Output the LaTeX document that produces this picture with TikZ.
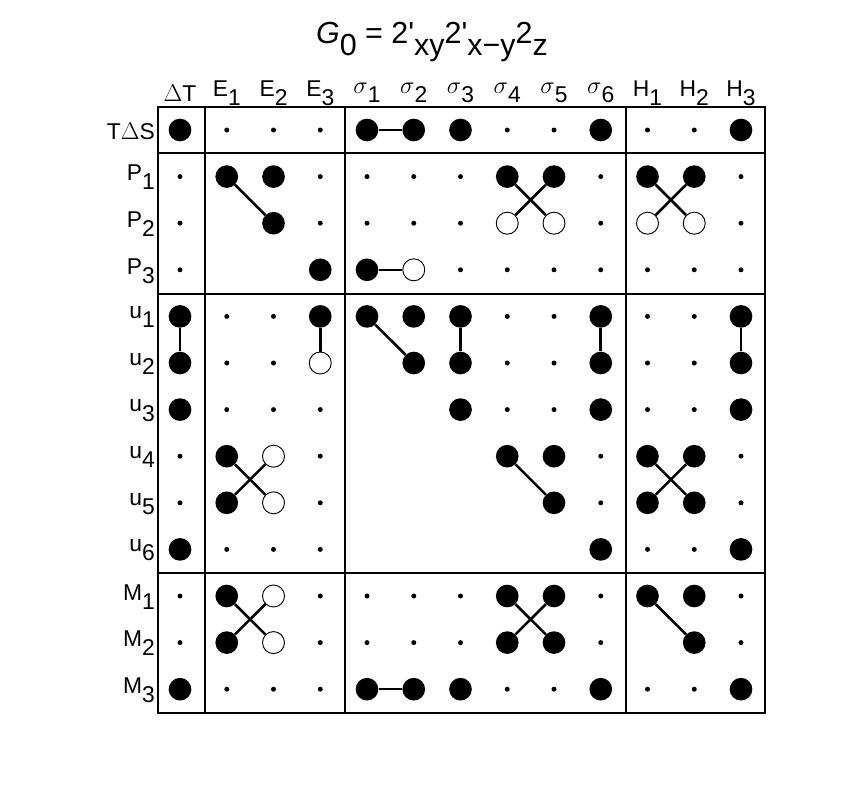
\documentclass[tikz,border=0pt]{standalone}
\usepackage{fontspec}
\setmainfont{Liberation Sans}
\usetikzlibrary{backgrounds}
\newcommand{\lowsub}[1]{\raisebox{-0.75ex}{#1}}
\begin{document}
\begin{tikzpicture}[x=0.03cm,y=-0.03cm,
  every node/.style={inner sep=0pt},
  dotB/.style={circle,fill=black,minimum width=0.6cm,minimum height=0.68cm},
  dotO/.style={circle,draw=black,line width=0.8pt,fill=white,minimum width=0.58cm,minimum height=0.66cm},
  dots/.style={circle,fill=black,minimum size=0.15cm},
  dotn/.style={coordinate},
  frame/.style={line width=2.4pt},
  link/.style={line width=2.2pt},
  lab/.style={font=\fontsize{19.5}{21}\selectfont}]
\useasboundingbox (0,0) rectangle (856,812);
\node[font=\fontsize{26}{28}\selectfont] (title) at (432,42) {{\itshape G}\lowsub{0} = 2\textquotesingle\lowsub{xy}2\textquotesingle\lowsub{x−y}2\lowsub{z}};
% column heads
\foreach \h [count=\c] in {$\Delta$T,E\lowsub{1},E\lowsub{2},E\lowsub{3},$\sigma$\lowsub{1},$\sigma$\lowsub{2},$\sigma$\lowsub{3},$\sigma$\lowsub{4},$\sigma$\lowsub{5},$\sigma$\lowsub{6},H\lowsub{1},H\lowsub{2},H\lowsub{3}}
  \node[lab] (head\c) at ({180+(\c-1)*46.75},93) {\h};
% row labels
\foreach \h [count=\r] in {T$\Delta$S,P\lowsub{1},P\lowsub{2},P\lowsub{3},u\lowsub{1},u\lowsub{2},u\lowsub{3},u\lowsub{4},u\lowsub{5},u\lowsub{6},M\lowsub{1},M\lowsub{2},M\lowsub{3}}
  \node[lab,anchor=east] (row\r) at (155,{131+(\r-1)*46.6}) {\h};
% the dots
\foreach \line [count=\r] in {
  {B,s,s,s,B,B,B,s,s,B,s,s,B},
  {s,B,B,s,s,s,s,B,B,s,B,B,s},
  {s,n,B,s,s,s,s,O,O,s,O,O,s},
  {s,n,n,B,B,O,s,s,s,s,s,s,s},
  {B,s,s,B,B,B,B,s,s,B,s,s,B},
  {B,s,s,O,n,B,B,s,s,B,s,s,B},
  {B,s,s,s,n,n,B,s,s,B,s,s,B},
  {s,B,O,s,n,n,n,B,B,s,B,B,s},
  {s,B,O,s,n,n,n,n,B,s,B,B,s},
  {B,s,s,s,n,n,n,n,n,B,s,s,B},
  {s,B,O,s,s,s,s,B,B,s,B,B,s},
  {s,B,O,s,s,s,s,B,B,s,n,B,s},
  {B,s,s,s,B,B,B,s,s,B,s,s,B}}
  \foreach \t [count=\c] in \line
    \node[dot\t] (n\r-\c) at ({180+(\c-1)*46.75},{130+(\r-1)*46.6}) {};
% connectors
\begin{pgfonlayer}{background}
\foreach \a/\b in {1-5/1-6, 2-2/3-3, 2-8/3-9, 2-9/3-8, 2-11/3-12, 2-12/3-11, 4-5/4-6,
  5-1/6-1, 5-4/6-4, 5-5/6-6, 5-7/6-7, 5-10/6-10, 5-13/6-13,
  8-2/9-3, 8-3/9-2, 8-8/9-9, 8-11/9-12, 8-12/9-11,
  11-2/12-3, 11-3/12-2, 11-8/12-9, 11-9/12-8, 11-11/12-12, 13-5/13-6}
  \draw[link] (n\a) -- (n\b);
\end{pgfonlayer}
% frame
\draw[frame] (158,107) rectangle (765,713);
\draw[frame] (205,107) -- (205,713) (345,107) -- (345,713) (626,107) -- (626,713);
\draw[frame] (158,153) -- (765,153) (158,294) -- (765,294) (158,573) -- (765,573);
\end{tikzpicture}
\end{document}
